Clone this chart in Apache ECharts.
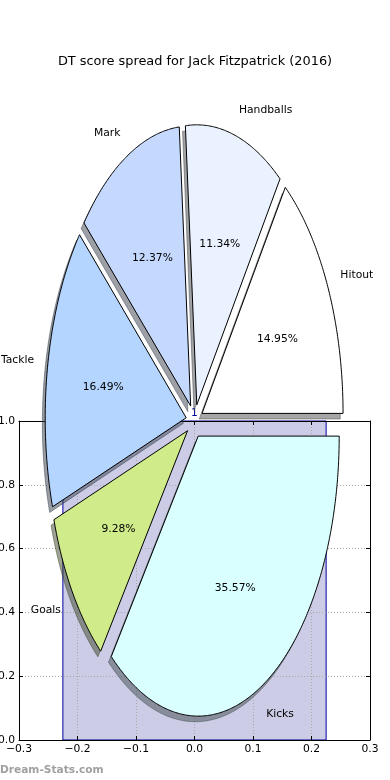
<!DOCTYPE html>
<html><head><meta charset="utf-8">
<script src="https://cdn.jsdelivr.net/npm/echarts@6/dist/echarts.min.js"></script>
<style>html,body{margin:0;padding:0;background:#fff}#c{width:390px;height:780px}</style>
</head><body><div id="c"></div>
<script>
// ---- data ----
const titleText = 'DT score spread for Jack Fitzpatrick (2016)';
const categories = ['Hitout', 'Handballs', 'Mark', 'Tackle', 'Goals', 'Kicks'];
const shares = [14.95, 11.34, 12.37, 16.49, 9.28, 35.57];
const barCenters = [0];
const barHeights = [1];
const barLabels = ['1'];
const xTicks = [-0.3, -0.2, -0.1, 0, 0.1, 0.2, 0.3];
const yTicks = [0, 0.2, 0.4, 0.6, 0.8, 1.0];
const watermark = 'Dream-Stats.com';

// ---- styles / layout ----
const sliceColors = ['#ffffff', '#eaf2ff', '#c5d9ff', '#b4d5ff', '#d0eb8a', '#d9ffff'];
const BAR_WIDTH = 0.45;
const PIE = { cx: 194.5, cy: 421, rx: 141, ry: 280, explode: 0.06, labelDist: 1.1, pctDist: 0.6, shadowOff: 0.02 };
const FONT = '"DejaVu Sans", Verdana, sans-serif';
const FS = 10.75;
const TEXT_NUDGE = 1.5;

const total = shares.reduce((a, b) => a + b, 0);
function geom(i) {
  let before = 0;
  for (let k = 0; k < i; k++) before += shares[k];
  const a0 = 360 * before / total, a1 = 360 * (before + shares[i]) / total;
  const mid = (a0 + a1) / 2 * Math.PI / 180;
  return { a0, a1, mid };
}
function pt(deg, r, ox, oy) {
  const t = deg * Math.PI / 180;
  return [PIE.cx + ox + r * PIE.rx * Math.cos(t), PIE.cy + oy - r * PIE.ry * Math.sin(t)];
}
function wedgePoints(i, sx, sy) {
  const g = geom(i);
  const ox = PIE.explode * PIE.rx * Math.cos(g.mid) + sx;
  const oy = -PIE.explode * PIE.ry * Math.sin(g.mid) + sy;
  const pts = [[PIE.cx + ox, PIE.cy + oy]];
  const n = Math.max(8, Math.ceil((g.a1 - g.a0) * 2));
  for (let k = 0; k <= n; k++) pts.push(pt(g.a0 + (g.a1 - g.a0) * k / n, 1, ox, oy));
  return pts;
}
function hexToRgb(h) {
  const v = parseInt(h.slice(1), 16);
  return [(v >> 16) & 255, (v >> 8) & 255, v & 255];
}

const chart = echarts.init(document.getElementById('c'), null, { renderer: 'canvas' });
const fmt = v => { const s = Math.abs(v).toFixed(1); return (v < -1e-9 ? '\u2212' : '') + s; };

const axisCommon = {
  type: 'value', z: 3,
  axisLine: { show: true, onZero: false, lineStyle: { color: '#000', width: 1 } },
  axisTick: { show: true, inside: true, length: 4, lineStyle: { color: '#000' } },
};

chart.setOption({
  animation: false,
  backgroundColor: '#fff',
  grid: { left: 19, right: 20, top: 421, bottom: 40, containLabel: false, outerBoundsMode: 'none' },
  xAxis: [
    Object.assign({}, axisCommon, {
      position: 'bottom', min: xTicks[0], max: xTicks[xTicks.length - 1], interval: 0.1,
      axisLabel: { show: true, margin: 4, color: '#000', fontFamily: FONT, fontSize: FS, formatter: fmt, showMinLabel: true, showMaxLabel: true, hideOverlap: false },
      splitLine: { show: true, lineStyle: { color: '#a8a8a8', type: [1, 2], width: 1 } }
    }),
    Object.assign({}, axisCommon, {
      position: 'top', min: xTicks[0], max: xTicks[xTicks.length - 1], interval: 0.1,
      axisLabel: { show: false }, splitLine: { show: false }
    })
  ],
  yAxis: [
    Object.assign({}, axisCommon, {
      position: 'left', min: yTicks[0], max: yTicks[yTicks.length - 1], interval: 0.2,
      axisLabel: { show: true, margin: 4, color: '#000', fontFamily: FONT, fontSize: FS, formatter: fmt, hideOverlap: false },
      splitLine: { show: true, lineStyle: { color: '#a8a8a8', type: [1, 2], width: 1 } }
    }),
    Object.assign({}, axisCommon, {
      position: 'right', min: yTicks[0], max: yTicks[yTicks.length - 1], interval: 0.2,
      axisLabel: { show: false }, splitLine: { show: false }
    })
  ],
  graphic: [
    { type: 'text', z: 10, style: { text: titleText, x: 195, y: 61.5, align: 'center', verticalAlign: 'middle', textAlign: 'center', textVerticalAlign: 'middle', font: '12.9px ' + FONT, fill: '#000' } },
    { type: 'text', z: 10, style: { text: watermark, x: 0, y: 770, align: 'left', verticalAlign: 'middle', textAlign: 'left', textVerticalAlign: 'middle', font: 'bold 10.6px ' + FONT, fill: '#a0a0a0' } }
  ],
  series: [
    {
      type: 'custom', name: 'bar', coordinateSystem: 'cartesian2d', xAxisIndex: 0, yAxisIndex: 0, z: 1,
      data: barCenters.map((c, i) => [c, barHeights[i]]),
      renderItem: function (params, api) {
        const x = api.value(0), h = api.value(1);
        const p0 = api.coord([x - BAR_WIDTH / 2, h]);
        const p1 = api.coord([x + BAR_WIDTH / 2, 0]);
        const pc = api.coord([x, h]);
        return {
          type: 'group', children: [
            { type: 'rect', shape: { x: p0[0], y: p0[1], width: p1[0] - p0[0], height: p1[1] - p0[1] },
              style: { fill: 'rgba(0,0,128,0.2)', stroke: '#0000a0', lineWidth: 1 } },
            { type: 'text', style: { text: barLabels[params.dataIndex], x: pc[0], y: pc[1] - 2, align: 'center', verticalAlign: 'bottom', textAlign: 'center', textVerticalAlign: 'bottom', font: FS + 'px ' + FONT, fill: '#0000a0' } }
          ]
        };
      }
    },
    {
      type: 'custom', name: 'shadow', coordinateSystem: 'none', z: 5,
      data: shares.map((v, i) => [i, v]),
      renderItem: function (params) {
        const i = params.dataIndex;
        const c = hexToRgb(sliceColors[i]).map(v => Math.round(v * 0.3));
        const col = 'rgba(' + c.join(',') + ',0.5)';
        return { type: 'polygon', shape: { points: wedgePoints(i, -PIE.shadowOff * PIE.rx, PIE.shadowOff * PIE.ry) },
          style: { fill: col, stroke: col, lineWidth: 1 } };
      }
    },
    {
      type: 'custom', name: 'pie', coordinateSystem: 'none', z: 6,
      data: shares.map((v, i) => [i, v]),
      renderItem: function (params) {
        const i = params.dataIndex;
        const g = geom(i);
        const cm = Math.cos(g.mid), sm = Math.sin(g.mid);
        const ox = PIE.explode * PIE.rx * cm, oy = -PIE.explode * PIE.ry * sm;
        const lx = PIE.cx + ox + PIE.labelDist * PIE.rx * cm, ly = PIE.cy + oy - PIE.labelDist * PIE.ry * sm + TEXT_NUDGE;
        const px = PIE.cx + ox + PIE.pctDist * PIE.rx * cm, py = PIE.cy + oy - PIE.pctDist * PIE.ry * sm + TEXT_NUDGE;
        const al = cm > 0 ? 'left' : 'right';
        return {
          type: 'group', children: [
            { type: 'polygon', shape: { points: wedgePoints(i, 0, 0) }, style: { fill: sliceColors[i], stroke: '#000', lineWidth: 1 } },
            { type: 'text', z2: 10, style: { text: (shares[i] / total * 100).toFixed(2) + '%', x: px, y: py, align: 'center', verticalAlign: 'middle', textAlign: 'center', textVerticalAlign: 'middle', font: FS + 'px ' + FONT, fill: '#000' } },
            { type: 'text', z2: 10, style: { text: categories[i], x: lx, y: ly, align: al, verticalAlign: 'middle', textAlign: al, textVerticalAlign: 'middle', font: FS + 'px ' + FONT, fill: '#000' } }
          ]
        };
      }
    }
  ]
});
</script></body></html>
